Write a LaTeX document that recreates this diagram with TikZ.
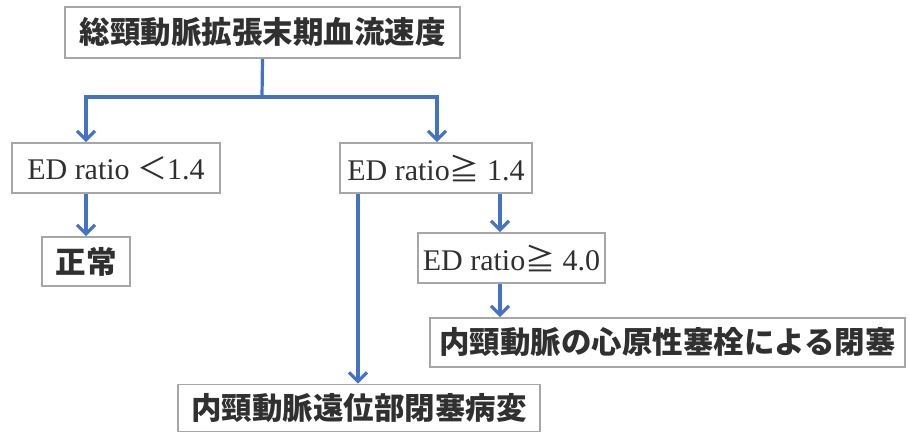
\documentclass[tikz,border=0pt]{standalone}
\usepackage{fontspec}
\setmainfont{Liberation Serif}
\newfontfamily\jp{Noto Sans CJK JP}
\usetikzlibrary{arrows.meta}
\definecolor{boxline}{HTML}{A6A6A6}
\definecolor{arrowblue}{HTML}{4472C4}
\definecolor{txt}{HTML}{303030}
\begin{document}
\begin{tikzpicture}[x=1pt,y=-1pt,
  box/.style={draw=boxline, line width=1.6pt, fill=white, inner sep=0pt, text=txt, anchor=center},
  jpbox/.style={box, font=\jp\bfseries\fontsize{30.5}{33}\selectfont},
  enbox/.style={box, font=\fontsize{30}{33}\selectfont},
  conn/.style={draw=arrowblue, line width=3.2pt},
  arr/.style={conn, -{Straight Barb[length=9pt,width=18pt]}}]
\useasboundingbox (0,0) rectangle (910,432);
\node[jpbox, minimum width=395pt, minimum height=51pt] (top) at (262.5,32.5) {総頸動脈拡張末期血流速度};
\node[enbox, minimum width=208pt, minimum height=50pt] (lt) at (116,168) {ED ratio {\jp ＜}1.4};
\node[jpbox, minimum width=88pt, minimum height=49pt] (ok) at (86,261.5) {正常};
\node[enbox, minimum width=192pt, minimum height=50pt] (ge) at (436,168) {ED ratio{\jp ≧} 1.4};
\node[enbox, minimum width=187pt, minimum height=50pt] (ge4) at (511.5,258) {ED ratio{\jp ≧} 4.0};
\node[jpbox, minimum width=475pt, minimum height=49pt] (emb) at (667.5,342.5) {内頸動脈の心原性塞栓による閉塞};
\node[jpbox, minimum width=362pt, minimum height=47pt] (dist) at (359,408) {内頸動脈遠位部閉塞病変};
\coordinate (j) at (262,97);
\coordinate (xL) at (86,0);
\coordinate (xR) at (437,0);
\coordinate (xM) at (358,0);
\coordinate (xE) at (500,0);
\draw[conn] (top.south) -- (j);
\draw[arr] (j) -| (lt.north -| xL);
\draw[arr] (j) -| (ge.north -| xR);
\draw[arr] (lt.south -| xL) -- (ok.north -| xL);
\draw[arr] (ge.south -| xM) -- (dist.north -| xM);
\draw[arr] (ge.south -| xE) -- (ge4.north -| xE);
\draw[arr] (ge4.south -| xE) -- (emb.north -| xE);
\end{tikzpicture}
\end{document}
